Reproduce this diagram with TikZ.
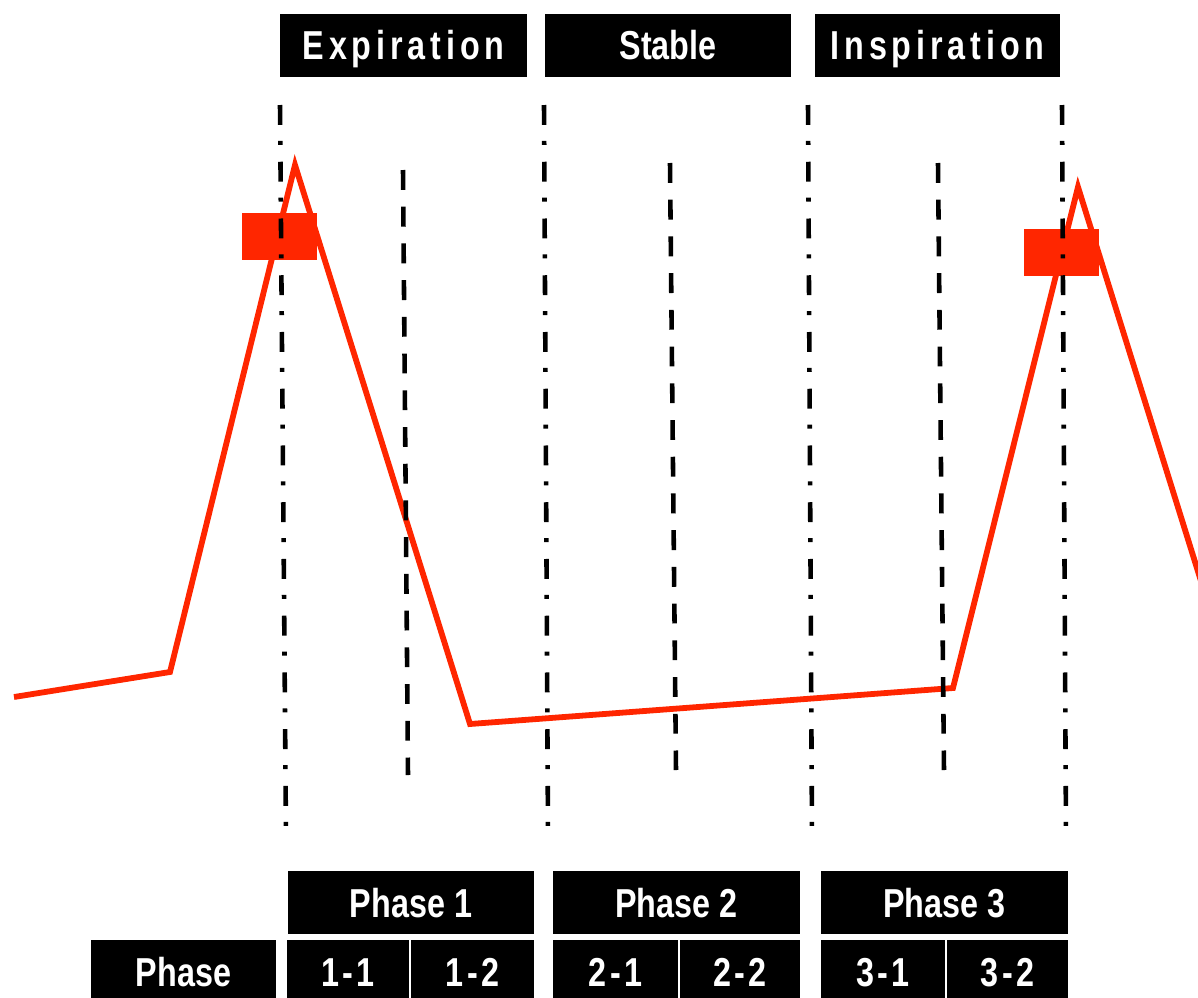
\documentclass[tikz,border=0pt]{standalone}
\usepackage{fontspec}
\setmainfont{Liberation Sans}
\usepackage{graphicx}
\usepackage{tikz}
\usetikzlibrary{positioning}
\definecolor{trace}{RGB}{255,38,0}
\newcommand{\narrow}[1]{\scalebox{0.8}[1]{#1}}
\newcommand{\headfont}{\bfseries\fontsize{23}{23}\selectfont}
\newcommand{\phasefont}{\bfseries\fontsize{23}{23}\selectfont}

\begin{document}
\begin{tikzpicture}[x=0.02cm, y=-0.02cm,
    head/.style={fill=black, text=white, inner sep=0pt, minimum height=63*0.02cm, minimum width=#1*0.02cm,
        text height=16.5pt, text depth=0pt, font=\headfont},
    spaced/.style={font=\headfont\addfontfeature{LetterSpace=15}},
    phasebox/.style={fill=black, text=white, inner sep=0pt, minimum height=63*0.02cm, minimum width=#1*0.02cm,
        text height=16.5pt, text depth=0pt, font=\phasefont},
    subbox/.style={phasebox=#1, font=\phasefont\addfontfeature{LetterSpace=10}},
    redbox/.style={fill=trace, inner sep=0pt, minimum width=75*0.02cm, minimum height=47*0.02cm},
    trace line/.style={draw=trace, line width=3.3pt, line join=miter},
    dashdotline/.style={line width=2.6pt, dash pattern=on 11.3pt off 9.1pt on 2.3pt off 9.6pt},
    dashline/.style={line width=2.6pt, dash pattern=on 11.3pt off 9.6pt}
    ]
    \clip (0,0) rectangle (1198,998);

    % breathing phases on top
    \node[head=247, spaced] (expi) at (403.5,45.5) {\narrow{Expiration}};
    \node[head=246] (stab) at (668,45.5) {\narrow{Stable}};
    \node[head=245, spaced] (inspi) at (937.5,45.5) {\narrow{Inspiration}};

    % gating windows
    \node[redbox] (mk1) at (279.5,236.5) {};
    \node[redbox] (mk2) at (1061.5,252.5) {};

    % signal
    \draw[trace line] (14,697) -- (170,672) -- (295,165) -- (470,724)
        -- (953,688) -- (1078,187) -- (1230,674);

    \foreach \xa/\xb [count=\i] in {280/286, 544/548, 808/812, 1062/1066} {
        \coordinate (bt\i) at (\xa,105);
        \coordinate (bb\i) at (\xb,835);
        \draw[dashdotline] (bt\i) -- (bb\i);
    }
    \foreach \xa/\ya/\xb/\yb [count=\i] in {403/170/408/775, 670/163/676/770, 938/163/944/770} {
        \coordinate (st\i) at (\xa,\ya);
        \coordinate (sb\i) at (\xb,\yb);
        \draw[dashline] (st\i) -- (sb\i);
    }

    % phase table
    \foreach \lab/\cx/\w [count=\i] in {1/411/246, 2/676.5/247, 3/944.5/247}
        \node[phasebox=\w] (ph\i) at (\cx,902.5) {\narrow{Phase \lab}};
    \node[phasebox=185] (phs) at (183.5,971.5) {\narrow{Phase}};
    \foreach \lab/\cx/\w [count=\i] in {1-1/348/122, 1-2/472.5/123, 2-1/615.5/125,
                                         2-2/740/120, 3-1/883/124, 3-2/1007.5/121}
        \node[subbox=\w] (sub\i) at (\cx,971.5) {\narrow{\lab}};
\end{tikzpicture}
\end{document}
